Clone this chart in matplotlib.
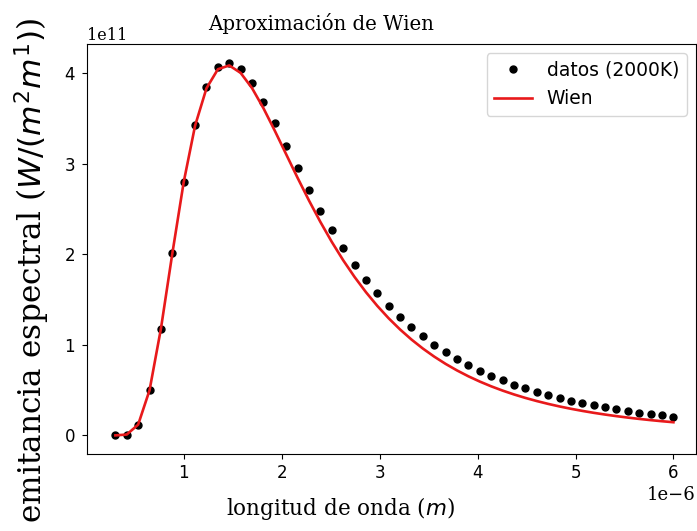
import matplotlib
matplotlib.use("Agg")
import matplotlib.pyplot as plt

# wavelength (units of 1e-6 m)
wavelength_um = [0.3, 0.416327, 0.532653, 0.648980, 0.765306, 0.881633, 0.997959, 1.114286,
                 1.230612, 1.346939, 1.463265, 1.579592, 1.695918, 1.812245, 1.928571, 2.044898,
                 2.161224, 2.277551, 2.393878, 2.510204, 2.626531, 2.742857, 2.859184, 2.975510,
                 3.091837, 3.208163, 3.324490, 3.440816, 3.557143, 3.673469, 3.789796, 3.906122,
                 4.022449, 4.138776, 4.255102, 4.371429, 4.487755, 4.604082, 4.720408, 4.836735,
                 4.953061, 5.069388, 5.185714, 5.302041, 5.418367, 5.534694, 5.651020, 5.767347,
                 5.883673, 6.0]

# data points, units of 1e11
datos_2000K = [0.0000593, 0.00937, 0.1189, 0.4986, 1.1791, 2.0090, 2.7999, 3.4269,
               3.8451, 4.0633, 4.1161, 4.0459, 3.8914, 3.6836, 3.4469, 3.1985,
               2.9499, 2.7090, 2.4804, 2.2664, 2.0685, 1.8869, 1.7208, 1.5697,
               1.4325, 1.3083, 1.1958, 1.0941, 1.0021, 0.91883, 0.84354, 0.77529,
               0.71348, 0.65740, 0.60647, 0.56016, 0.51803, 0.47965, 0.44465, 0.41267,
               0.38345, 0.35668, 0.33217, 0.30966, 0.28900, 0.26998, 0.25248, 0.23634,
               0.22147, 0.20770]

# Wien curve, units of 1e11
wien = [0.0000593, 0.00937, 0.1189, 0.4986, 1.1790, 2.0084, 2.7978, 3.4215,
        3.8340, 4.0438, 4.0860, 4.0033, 3.8354, 3.6141, 3.3642, 3.1036,
        2.8442, 2.5939, 2.3575, 2.1374, 1.9348, 1.7499, 1.5818, 1.42980,
        1.29271, 1.16938, 1.05845, 0.95889, 0.86946, 0.78919, 0.71714, 0.65237,
        0.59417, 0.54180, 0.49464, 0.45212, 0.41376, 0.37911, 0.34779, 0.31942,
        0.29372, 0.27039, 0.24921, 0.22993, 0.21239, 0.19639, 0.18179, 0.16845,
        0.15626, 0.14508]

x = [v * 1e-6 for v in wavelength_um]
y_dat = [v * 1e11 for v in datos_2000K]
y_wien = [v * 1e11 for v in wien]

plt.rcParams['font.family'] = ['DejaVu Sans']

fig = plt.figure(figsize=(6.97, 5.31), dpi=100)
ax = fig.add_axes([0.1248, 0.145, 0.8737, 0.772])

ax.plot(x, y_dat, 'k.', markersize=10, label='datos (2000K)')
ax.plot(x, y_wien, '-', color='#e8191b', linewidth=1.9, label='Wien')

ax.set_xlim(0.01e-6, 6.23e-6)

ax.set_title('Aproximación de Wien', family='DejaVu Serif', fontsize=14.2,
             x=0.385, pad=10)
ax.set_xlabel('longitud de onda ($m$)', family='DejaVu Serif', fontsize=15.5)
ax.xaxis.set_label_coords(0.416, -0.1)
ax.set_ylabel('emitancia espectral ($W/(m^2m^1)$)', family='DejaVu Serif', fontsize=22.5)
ax.yaxis.set_label_coords(-0.058, 0.447)

ax.tick_params(labelsize=12)
ax.tick_params(axis='y', pad=5)
ax.xaxis.get_offset_text().set_fontfamily('DejaVu Serif')
ax.xaxis.get_offset_text().set_fontsize(13)
ax.yaxis.get_offset_text().set_fontfamily('DejaVu Serif')
ax.yaxis.get_offset_text().set_fontsize(11.5)

ax.legend(loc='upper right', fontsize=13.5)

fig.savefig('out.png', dpi=100)
